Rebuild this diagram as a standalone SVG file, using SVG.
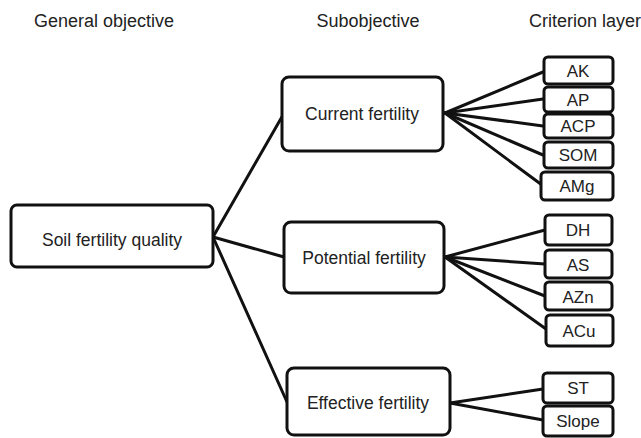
<svg xmlns="http://www.w3.org/2000/svg" width="641" height="438" viewBox="0 0 641 438">
<style>
.big{fill:#fff;stroke:#111;stroke-width:3}
.sm{fill:#fff;stroke:#111;stroke-width:3}
text{font-family:"Liberation Sans",Arial,sans-serif;fill:#222;text-anchor:middle}
.h{font-size:18px}
.t{font-size:17.5px}
.c{font-size:17px}
#connectors line{stroke:#111;stroke-width:3;stroke-linecap:round}
</style>
<rect width="641" height="438" fill="#fff"/>
<g id="headers">
<text class="h" x="104" y="27">General objective</text>
<text class="h" x="368" y="27">Subobjective</text>
<text class="h" x="585" y="27">Criterion layer</text>
</g>
<g id="connectors">
<line x1="213" y1="237" x2="283" y2="115"/>
<line x1="213" y1="237" x2="284" y2="257"/>
<line x1="213" y1="237" x2="287" y2="402"/>
<line x1="445" y1="113" x2="543" y2="72"/>
<line x1="445" y1="113" x2="543" y2="99"/>
<line x1="445" y1="113" x2="543" y2="126"/>
<line x1="445" y1="113" x2="543" y2="155"/>
<line x1="445" y1="113" x2="542" y2="185"/>
<line x1="445" y1="257" x2="545" y2="230"/>
<line x1="445" y1="257" x2="545" y2="264"/>
<line x1="445" y1="257" x2="545" y2="296"/>
<line x1="445" y1="257" x2="546" y2="329"/>
<line x1="450" y1="403" x2="543" y2="389"/>
<line x1="450" y1="403" x2="543" y2="420"/>
</g>
<g id="n-soil"><rect class="big" x="11" y="205" width="202" height="62" rx="6"/><text class="t" x="112" y="246">Soil fertility quality</text></g>
<g id="n-current"><rect class="big" x="282" y="77" width="161" height="74" rx="7"/><text class="t" x="362" y="120">Current fertility</text></g>
<g id="n-potential"><rect class="big" x="284" y="222" width="160" height="71" rx="7"/><text class="t" x="364" y="264">Potential fertility</text></g>
<g id="n-effective"><rect class="big" x="287" y="368" width="163" height="67" rx="7"/><text class="t" x="368" y="409">Effective fertility</text></g>
<g id="n-ak"><rect class="sm" x="544" y="57" width="69" height="27" rx="4"/><text class="c" x="578" y="77">AK</text></g>
<g id="n-ap"><rect class="sm" x="544" y="87" width="69" height="25" rx="4"/><text class="c" x="578" y="106">AP</text></g>
<g id="n-acp"><rect class="sm" x="544" y="114" width="69" height="24" rx="4"/><text class="c" x="578" y="132">ACP</text></g>
<g id="n-som"><rect class="sm" x="544" y="142" width="69" height="26" rx="4"/><text class="c" x="578" y="161">SOM</text></g>
<g id="n-amg"><rect class="sm" x="541" y="172" width="72" height="28" rx="4"/><text class="c" x="577" y="192">AMg</text></g>
<g id="n-dh"><rect class="sm" x="545" y="215" width="67" height="30" rx="4"/><text class="c" x="578" y="236">DH</text></g>
<g id="n-as"><rect class="sm" x="545" y="250" width="67" height="28" rx="4"/><text class="c" x="578" y="271">AS</text></g>
<g id="n-azn"><rect class="sm" x="545" y="282" width="67" height="28" rx="4"/><text class="c" x="578" y="303">AZn</text></g>
<g id="n-acu"><rect class="sm" x="546" y="315" width="67" height="31" rx="4"/><text class="c" x="579" y="337">ACu</text></g>
<g id="n-st"><rect class="sm" x="543" y="373" width="70" height="30" rx="4"/><text class="c" x="578" y="394">ST</text></g>
<g id="n-slope"><rect class="sm" x="543" y="406" width="70" height="30" rx="4"/><text class="c" x="578" y="427">Slope</text></g>
</svg>
